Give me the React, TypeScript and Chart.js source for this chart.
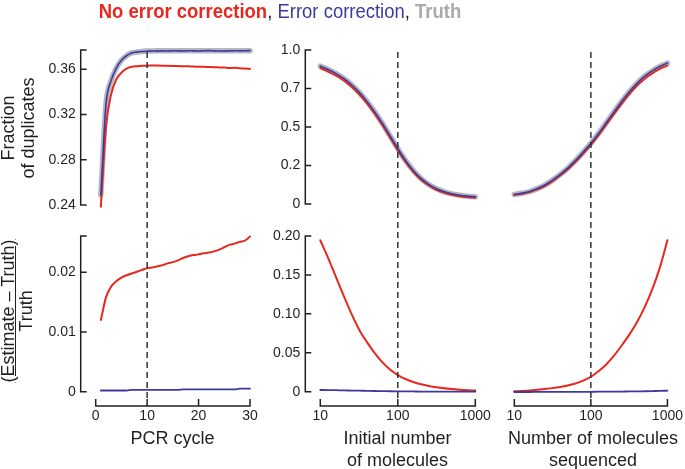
import React, { useEffect, useRef } from 'react';
import { Chart, registerables } from 'chart.js';
Chart.register(...registerables);

const FONT = "'Liberation Sans', Arial, Helvetica, sans-serif";
const RED = '#e8281e';
const BLUE = '#3b3b9f';
const GRAY = '#b6b6c0';
const AXIS = '#231f20';
const DASH = '#333333';

// ---------- Column 1: PCR cycle ----------
const pcrCycles = [1, 2, 3, 4, 5, 6, 7, 8, 9, 10, 11, 12, 13, 14, 15, 16, 17, 18, 19, 20, 21, 22, 23, 24, 25, 26, 27, 28, 29, 30];
const pcrDupTruth = [0.249, 0.329, 0.350, 0.361, 0.368, 0.372, 0.3745, 0.3753, 0.3758, 0.3761, 0.3762, 0.3763, 0.3763, 0.3763, 0.3763, 0.3763, 0.3763, 0.3763, 0.3763, 0.3763, 0.3763, 0.3763, 0.3763, 0.3763, 0.3763, 0.3763, 0.3763, 0.3763, 0.3763, 0.3763];
const pcrDupEC = [0.249, 0.329, 0.350, 0.361, 0.368, 0.372, 0.3744, 0.3752, 0.3757, 0.3760, 0.3762, 0.3761, 0.3763, 0.3762, 0.3764, 0.3763, 0.3762, 0.3764, 0.3763, 0.3762, 0.3764, 0.3765, 0.3763, 0.3762, 0.3761, 0.3763, 0.3764, 0.3763, 0.3764, 0.3765];
const pcrDupNoEC = [0.2385, 0.309, 0.338, 0.351, 0.357, 0.3605, 0.3622, 0.3628, 0.3631, 0.3632, 0.3634, 0.3633, 0.3632, 0.3631, 0.3630, 0.3629, 0.3627, 0.3626, 0.3624, 0.3623, 0.3622, 0.3620, 0.3619, 0.3617, 0.3615, 0.3612, 0.3613, 0.3609, 0.3607, 0.3603];
const pcrErrNoEC = [0.0120, 0.0158, 0.0176, 0.0185, 0.0191, 0.0195, 0.0198, 0.0201, 0.0204, 0.0207, 0.0208, 0.0210, 0.0212, 0.0215, 0.0217, 0.0220, 0.0224, 0.0227, 0.0229, 0.0230, 0.0232, 0.0233, 0.0235, 0.0238, 0.0242, 0.0246, 0.0248, 0.0251, 0.0253, 0.0260];
const pcrErrEC = [0.0002, 0.0002, 0.0002, 0.0002, 0.0002, 0.0002, 0.0003, 0.0003, 0.0003, 0.0003, 0.0003, 0.0003, 0.0003, 0.0003, 0.0003, 0.0003, 0.0004, 0.0004, 0.0004, 0.0004, 0.0004, 0.0004, 0.0004, 0.0004, 0.0004, 0.0004, 0.0004, 0.0005, 0.0005, 0.0005];

// ---------- Columns 2 & 3: molecule counts (log x) ----------
const moleculeCounts = [10, 12.6, 15.8, 20, 25.1, 31.6, 39.8, 50.1, 63.1, 79.4, 100, 125.9, 158.5, 199.5, 251.2, 316.2, 398.1, 501.2, 631, 794.3, 1000];
const initDupTruth = [0.895, 0.873, 0.848, 0.816, 0.776, 0.727, 0.668, 0.600, 0.525, 0.443, 0.360, 0.283, 0.218, 0.166, 0.127, 0.099, 0.079, 0.066, 0.057, 0.051, 0.047];
const initDupEC = [0.895, 0.873, 0.848, 0.816, 0.776, 0.727, 0.668, 0.600, 0.525, 0.443, 0.360, 0.283, 0.218, 0.166, 0.127, 0.099, 0.079, 0.066, 0.057, 0.051, 0.047];
const initDupNoEC = [0.882, 0.860, 0.835, 0.803, 0.763, 0.714, 0.655, 0.588, 0.513, 0.432, 0.349, 0.273, 0.209, 0.158, 0.120, 0.092, 0.073, 0.060, 0.051, 0.045, 0.041];
const initErrNoEC = [0.1945, 0.172, 0.148, 0.1235, 0.1005, 0.080, 0.064, 0.050, 0.038, 0.0285, 0.0214, 0.0163, 0.0125, 0.0096, 0.0074, 0.0057, 0.0044, 0.0034, 0.0026, 0.0019, 0.0014];
const initErrEC = [0.0022, 0.0021, 0.0019, 0.0017, 0.0015, 0.0013, 0.0011, 0.0009, 0.0008, 0.0006, 0.0005, 0.0004, 0.0003, 0.0002, 0.0002, 0.0001, 0.0001, 0.0000, 0.0000, 0.0000, 0.0000];

const seqDupTruth = [0.062, 0.070, 0.081, 0.100, 0.123, 0.155, 0.192, 0.234, 0.283, 0.337, 0.394, 0.458, 0.527, 0.596, 0.664, 0.727, 0.782, 0.828, 0.864, 0.893, 0.915];
const seqDupEC = [0.062, 0.070, 0.081, 0.100, 0.123, 0.155, 0.192, 0.234, 0.283, 0.337, 0.394, 0.458, 0.527, 0.596, 0.664, 0.727, 0.782, 0.828, 0.864, 0.893, 0.915];
const seqDupNoEC = [0.059, 0.067, 0.077, 0.096, 0.118, 0.149, 0.185, 0.226, 0.274, 0.327, 0.384, 0.447, 0.515, 0.583, 0.650, 0.712, 0.767, 0.812, 0.848, 0.877, 0.899];
const seqErrNoEC = [0.0005, 0.0010, 0.0016, 0.0025, 0.0035, 0.0046, 0.0060, 0.0080, 0.0105, 0.0142, 0.0192, 0.0262, 0.0350, 0.0460, 0.0590, 0.0730, 0.0890, 0.1080, 0.1310, 0.1590, 0.1945];
const seqErrEC = [-0.0004, -0.0004, -0.0004, -0.0003, -0.0003, -0.0003, -0.0002, -0.0002, -0.0002, -0.0001, -0.0001, 0.0000, 0.0000, 0.0001, 0.0002, 0.0003, 0.0004, 0.0006, 0.0008, 0.0010, 0.0013];

// ---------- Ticks ----------
const pcrXTicks = [0, 10, 20, 30];
const pcrXLabels = ['0', '10', '20', '30'];
const logXTicks = [10, 100, 1000];
const logXLabels = ['10', '100', '1000'];
const pcrDupTicks = [0.24, 0.28, 0.32, 0.36];
const pcrDupLabels = ['0.24', '0.28', '0.32', '0.36'];
const pcrErrTicks = [0, 0.01, 0.02];
const pcrErrLabels = ['0', '0.01', '0.02'];
const fracTicks = [0, 0.25, 0.5, 0.75, 1.0];
const fracLabels = ['0', '0.2', '0.5', '0.7', '1.0'];
const errTicks = [0, 0.05, 0.1, 0.15, 0.2];
const errLabels = ['0', '0.05', '0.10', '0.15', '0.20'];

type YCfg = { min: number; max: number; ticks: number[]; labels: string[]; lo: number; hi: number; show: boolean };
type ColCfg = {
  xType: 'linear' | 'logarithmic';
  xMin: number; xMax: number; xTicks: number[]; xLabels: string[];
  padLeft: number; padRight: number; yWidth: number;
  top: YCfg; bot: YCfg; dashX: number;
  xs: number[];
  topTruth: number[]; topEC: number[]; topNoEC: number[];
  botNoEC: number[]; botEC: number[];
};

const labelFor = (vals: number[], labels: string[], v: number) => {
  const i = vals.findIndex((t) => Math.abs(t - v) < 1e-9);
  return i >= 0 ? labels[i] : '';
};

const pts = (xs: number[], ys: number[]) => xs.map((x, i) => ({ x, y: ys[i] }));

function makePlugin(cfg: ColCfg) {
  return {
    id: 'bracketAxes',
    afterDatasetsDraw(chart: any) {
      const ctx = chart.ctx;
      const a = chart.chartArea;
      const xs = chart.scales.x;
      const yT = chart.scales.yTop;
      const px = xs.getPixelForValue(cfg.dashX);
      ctx.save();
      ctx.strokeStyle = DASH;
      ctx.lineWidth = 1.5;
      ctx.setLineDash([6, 4]);
      ctx.beginPath();
      ctx.moveTo(px, yT.getPixelForValue(cfg.top.hi) + 2);
      ctx.lineTo(px, a.bottom - 6);
      ctx.stroke();
      ctx.restore();
    },
    afterDraw(chart: any) {
      const ctx = chart.ctx;
      const a = chart.chartArea;
      ctx.save();
      ctx.strokeStyle = AXIS;
      ctx.lineWidth = 1.5;
      ctx.lineCap = 'butt';
      const x0 = a.left - 15;
      ([['yTop', cfg.top], ['yBot', cfg.bot]] as [string, YCfg][]).forEach(([id, y]) => {
        if (!y.show) return;
        const s = chart.scales[id];
        ctx.beginPath();
        ctx.moveTo(x0, s.getPixelForValue(y.hi));
        ctx.lineTo(x0, s.getPixelForValue(y.lo));
        [...y.ticks, y.lo, y.hi].forEach((t) => {
          const p = s.getPixelForValue(t);
          ctx.moveTo(x0 - 0.75, p);
          ctx.lineTo(x0 + 6, p);
        });
        ctx.stroke();
      });
      const xs = chart.scales.x;
      const yb = a.bottom;
      ctx.beginPath();
      ctx.moveTo(xs.getPixelForValue(cfg.xTicks[0]), yb);
      ctx.lineTo(xs.getPixelForValue(cfg.xTicks[cfg.xTicks.length - 1]), yb);
      cfg.xTicks.forEach((t) => {
        const p = xs.getPixelForValue(t);
        ctx.moveTo(p, yb + 0.75);
        ctx.lineTo(p, yb - 7);
      });
      ctx.stroke();
      ctx.restore();
    },
  };
}

function yScale(cfg: ColCfg, y: YCfg, weight: number) {
  return {
    type: 'linear',
    position: 'left',
    stack: 'col',
    stackWeight: weight,
    display: y.show,
    min: y.min,
    max: y.max,
    grid: { display: false, drawTicks: false },
    border: { display: false },
    ticks: {
      font: { family: FONT, size: 14 },
      color: AXIS,
      padding: 20,
      autoSkip: false,
      callback: (v: number) => labelFor(y.ticks, y.labels, v),
    },
    afterBuildTicks: (s: any) => { s.ticks = y.ticks.map((v) => ({ value: v })); },
    afterFit: (s: any) => { s.width = y.show ? cfg.yWidth : 0; },
  };
}

function makeChart(canvas: HTMLCanvasElement, cfg: ColCfg) {
  const common = { pointRadius: 0, fill: false, cubicInterpolationMode: 'monotone', borderCapStyle: 'round', borderJoinStyle: 'round', clip: false };
  return new Chart(canvas, {
    type: 'line',
    data: {
      datasets: [
        { ...common, data: pts(cfg.xs, cfg.topEC), yAxisID: 'yTop', borderColor: BLUE, borderWidth: 1.6, order: 1 },
        { ...common, data: pts(cfg.xs, cfg.topNoEC), yAxisID: 'yTop', borderColor: RED, borderWidth: 2, order: 2 },
        { ...common, data: pts(cfg.xs, cfg.topTruth), yAxisID: 'yTop', borderColor: GRAY, borderWidth: 5.5, order: 3 },
        { ...common, data: pts(cfg.xs, cfg.botEC), yAxisID: 'yBot', borderColor: BLUE, borderWidth: 1.8, order: 1 },
        { ...common, data: pts(cfg.xs, cfg.botNoEC), yAxisID: 'yBot', borderColor: RED, borderWidth: 2, order: 2 },
      ] as any,
    },
    options: {
      responsive: false,
      devicePixelRatio: 1,
      animation: false,
      events: [],
      layout: { padding: { left: cfg.padLeft, right: cfg.padRight, top: 50, bottom: 33 } },
      plugins: { legend: { display: false }, tooltip: { enabled: false }, title: { display: false } },
      scales: {
        x: {
          type: cfg.xType,
          position: 'bottom',
          min: cfg.xMin,
          max: cfg.xMax,
          grid: { display: false, drawTicks: false },
          border: { display: false },
          ticks: {
            font: { family: FONT, size: 14 },
            color: AXIS,
            padding: 2,
            autoSkip: false,
            maxRotation: 0,
            callback: (v: number) => labelFor(cfg.xTicks, cfg.xLabels, v),
          },
          afterBuildTicks: (s: any) => { s.ticks = cfg.xTicks.map((v) => ({ value: v })); },
          afterFit: (s: any) => { s.height = 30; },
        },
        yBot: yScale(cfg, cfg.bot, 186),
        yTop: yScale(cfg, cfg.top, 170),
      } as any,
    },
    plugins: [makePlugin(cfg)],
  });
}

const col1: ColCfg = {
  xType: 'linear', xMin: 0, xMax: 30, xTicks: pcrXTicks, xLabels: pcrXLabels,
  padLeft: 35.7, padRight: 435, yWidth: 60,
  top: { min: 0.22674, max: 0.37707, ticks: pcrDupTicks, labels: pcrDupLabels, lo: 0.24, hi: 0.3771, show: true },
  bot: { min: -0.002395, max: 0.02876, ticks: pcrErrTicks, labels: pcrErrLabels, lo: 0, hi: 0.0261, show: true },
  dashX: 10, xs: pcrCycles,
  topTruth: pcrDupTruth, topEC: pcrDupEC, topNoEC: pcrDupNoEC, botNoEC: pcrErrNoEC, botEC: pcrErrEC,
};
const col2: ColCfg = {
  xType: 'logarithmic', xMin: 10, xMax: 1000, xTicks: logXTicks, xLabels: logXLabels,
  padLeft: 260.3, padRight: 209.7, yWidth: 60,
  top: { min: -0.1039, max: 1.0, ticks: fracTicks, labels: fracLabels, lo: 0, hi: 1.0, show: true },
  bot: { min: -0.01837, max: 0.22055, ticks: errTicks, labels: errLabels, lo: 0, hi: 0.2, show: true },
  dashX: 100, xs: moleculeCounts,
  topTruth: initDupTruth, topEC: initDupEC, topNoEC: initDupNoEC, botNoEC: initErrNoEC, botEC: initErrEC,
};
const col3: ColCfg = {
  xType: 'logarithmic', xMin: 10, xMax: 1000, xTicks: logXTicks, xLabels: logXLabels,
  padLeft: 514.3, padRight: 15.7, yWidth: 0,
  top: { min: -0.1039, max: 1.0, ticks: fracTicks, labels: fracLabels, lo: 0, hi: 1.0, show: false },
  bot: { min: -0.01837, max: 0.22055, ticks: errTicks, labels: errLabels, lo: 0, hi: 0.2, show: false },
  dashX: 100, xs: moleculeCounts,
  topTruth: seqDupTruth, topEC: seqDupEC, topNoEC: seqDupNoEC, botNoEC: seqErrNoEC, botEC: seqErrEC,
};

const abs = (style: React.CSSProperties): React.CSSProperties => ({ position: 'absolute', whiteSpace: 'nowrap', ...style });

export default function App() {
  const r1 = useRef<HTMLCanvasElement>(null);
  const r2 = useRef<HTMLCanvasElement>(null);
  const r3 = useRef<HTMLCanvasElement>(null);
  useEffect(() => {
    const charts = [makeChart(r1.current!, col1), makeChart(r2.current!, col2), makeChart(r3.current!, col3)];
    return () => charts.forEach((c) => c.destroy());
  }, []);
  const cv: React.CSSProperties = { position: 'absolute', left: 0, top: 0, width: 685, height: 469 };
  return (
    <div style={{ position: 'absolute', left: 0, top: 0, width: 685, height: 469, background: '#fff', fontFamily: FONT, color: AXIS, overflow: 'hidden' }}>
      <canvas ref={r1} width={685} height={469} style={cv} />
      <canvas ref={r2} width={685} height={469} style={cv} />
      <canvas ref={r3} width={685} height={469} style={cv} />
      <div style={abs({ left: 0, width: 560, top: 0, textAlign: 'center', fontSize: 21, lineHeight: '21px', transform: 'scaleX(0.88)', transformOrigin: '280px 10px' })}>
        <span style={{ color: RED, fontWeight: 'bold' }}>No error correction</span>
        <span>, </span>
        <span style={{ color: BLUE }}>Error correction</span>
        <span>, </span>
        <span style={{ color: '#a9a9ae', fontWeight: 'bold' }}>Truth</span>
      </div>
      <div style={abs({ left: 18 - 100, top: 128 - 20, width: 200, height: 40, textAlign: 'center', fontSize: 18, lineHeight: '20px', transform: 'rotate(-90deg)' })}>
        Fraction<br />of duplicates
      </div>
      <div style={abs({ left: 17 - 100, top: 311 - 18, width: 200, height: 36, textAlign: 'center', fontSize: 18, lineHeight: '18px', transform: 'rotate(-90deg)' })}>
        <span style={{ textDecoration: 'underline' }}>(Estimate – Truth)</span><br />Truth
      </div>
      <div style={abs({ left: 172.5 - 100, top: 427, width: 200, textAlign: 'center', fontSize: 18, lineHeight: '22px' })}>PCR cycle</div>
      <div style={abs({ left: 397.5 - 100, top: 427, width: 200, textAlign: 'center', fontSize: 18, lineHeight: '22px' })}>
        Initial number<br />of molecules
      </div>
      <div style={abs({ left: 593 - 100, top: 427, width: 200, textAlign: 'center', fontSize: 18, lineHeight: '22px' })}>
        Number of molecules<br />sequenced
      </div>
    </div>
  );
}
